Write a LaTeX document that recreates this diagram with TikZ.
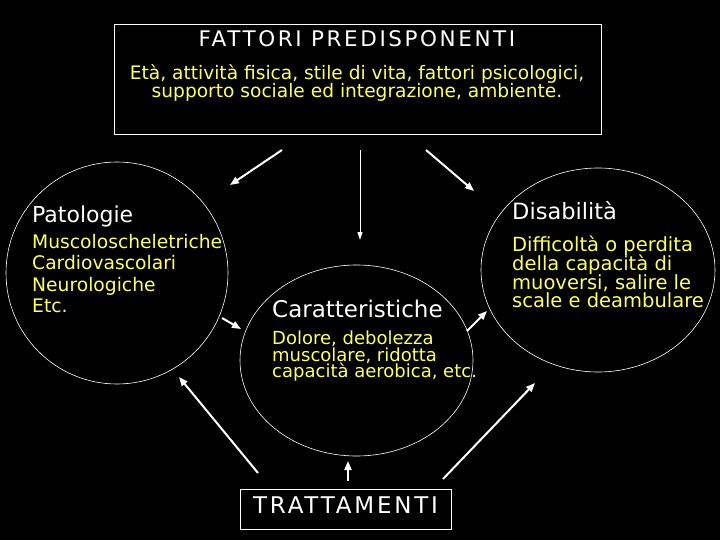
\documentclass[tikz,border=0pt]{standalone}
\usepackage{fontspec}
\setmainfont{DejaVu Sans}
\newfontfamily\capsfont[LetterSpace=12]{DejaVu Sans}
\usepackage{xcolor}
\definecolor{paleyellow}{RGB}{255,255,102}
\usetikzlibrary{arrows.meta,shapes.geometric}
\setlength{\lineskiplimit}{-20pt}

\begin{document}
\begin{tikzpicture}[x=1pt,y=-1pt,
  arr/.style={white, line width=2pt, -{Triangle[length=9pt,width=7pt]}},
  thinarr/.style={white, line width=1pt, -{Triangle[length=8pt,width=5pt]}},
  blob/.style={draw=white, ellipse, line width=0.6pt, inner sep=0pt},
  head/.style={white, inner sep=0pt, anchor=north west},
  body/.style={paleyellow, inner sep=0pt, anchor=north west, align=left}]
  \fill[black] (0,0) rectangle (720,540);
  \useasboundingbox (0,0) rectangle (720,540);

  % top box
  \node[draw=white, line width=0.6pt, minimum width=487pt, minimum height=110pt] (fattori) at (357.5,79) {};
  \node[white, inner sep=0pt, anchor=base, font=\capsfont\fontsize{21.5}{24}\selectfont] (fattoriTitle) at (357,47) {FATTORI PREDISPONENTI};
  \node[paleyellow, inner sep=0pt, anchor=north, align=center,
        font=\fontsize{18.6}{18}\selectfont] (fattoriText) at (357,64)
        {Età, attività fisica, stile di vita, fattori psicologici,\\supporto sociale ed integrazione, ambiente.};

  % the three circles
  \node[blob, minimum width=222pt, minimum height=222pt] (patologie) at (117,273) {};
  \node[blob, minimum width=233pt, minimum height=191pt] (caratteristiche) at (356.5,360.5) {};
  \node[blob, minimum width=234pt, minimum height=204pt] (disabilita) at (598,270) {};

  \node[head, font=\fontsize{22}{26}\selectfont] (patologieTitle) at (32,206) {Patologie};
  \node[body, font=\fontsize{18.7}{21.3}\selectfont] (patologieText) at (32,234)
        {Muscoloscheletriche\\Cardiovascolari\\Neurologiche\\Etc.};

  \node[head, font=\fontsize{23}{26}\selectfont] (caratteristicheTitle) at (272,300) {Caratteristiche};
  \node[body, font=\fontsize{18}{16.5}\selectfont] (caratteristicheText) at (272,331)
        {Dolore, debolezza\\muscolare, ridotta\\capacità aerobica, etc.};

  \node[head, font=\fontsize{22.5}{26}\selectfont] (disabilitaTitle) at (512,201) {Disabilità};
  \node[body, font=\fontsize{19.5}{18.7}\selectfont] (disabilitaText) at (512,236)
        {Difficoltà o perdita\\della capacità di\\muoversi, salire le\\scale e deambulare};

  % bottom box
  \node[draw=white, line width=0.6pt, minimum width=211pt, minimum height=40pt, text=white,
        text depth=7pt, font=\capsfont\fontsize{23}{26}\selectfont] (trattamenti) at (345.5,509) {TRATTAMENTI};

  % arrow ends
  \coordinate (fp1) at (282,150);
  \coordinate (fp2) at (360,150);
  \coordinate (fp3) at (426,150);
  \coordinate (pt1) at (230,185);
  \coordinate (ct1) at (360,240);
  \coordinate (ds1) at (474,191);
  \coordinate (pt2) at (222,318);
  \coordinate (ct2) at (241,329);
  \coordinate (ct3) at (467,331);
  \coordinate (ds2) at (487,311);
  \coordinate (tr1) at (258,473);
  \coordinate (tr2) at (348,481);
  \coordinate (tr3) at (443,479);
  \coordinate (pt3) at (179,377);
  \coordinate (ct4) at (348,461);
  \coordinate (ds3) at (535,383);

  \draw[arr] (fp1) -- (pt1);
  \draw[thinarr] (fp2) -- (ct1);
  \draw[arr] (fp3) -- (ds1);
  \draw[arr] (pt2) -- (ct2);
  \draw[arr] (ct3) -- (ds2);
  \draw[arr] (tr1) -- (pt3);
  \draw[arr] (tr2) -- (ct4);
  \draw[arr] (tr3) -- (ds3);
\end{tikzpicture}
\end{document}
